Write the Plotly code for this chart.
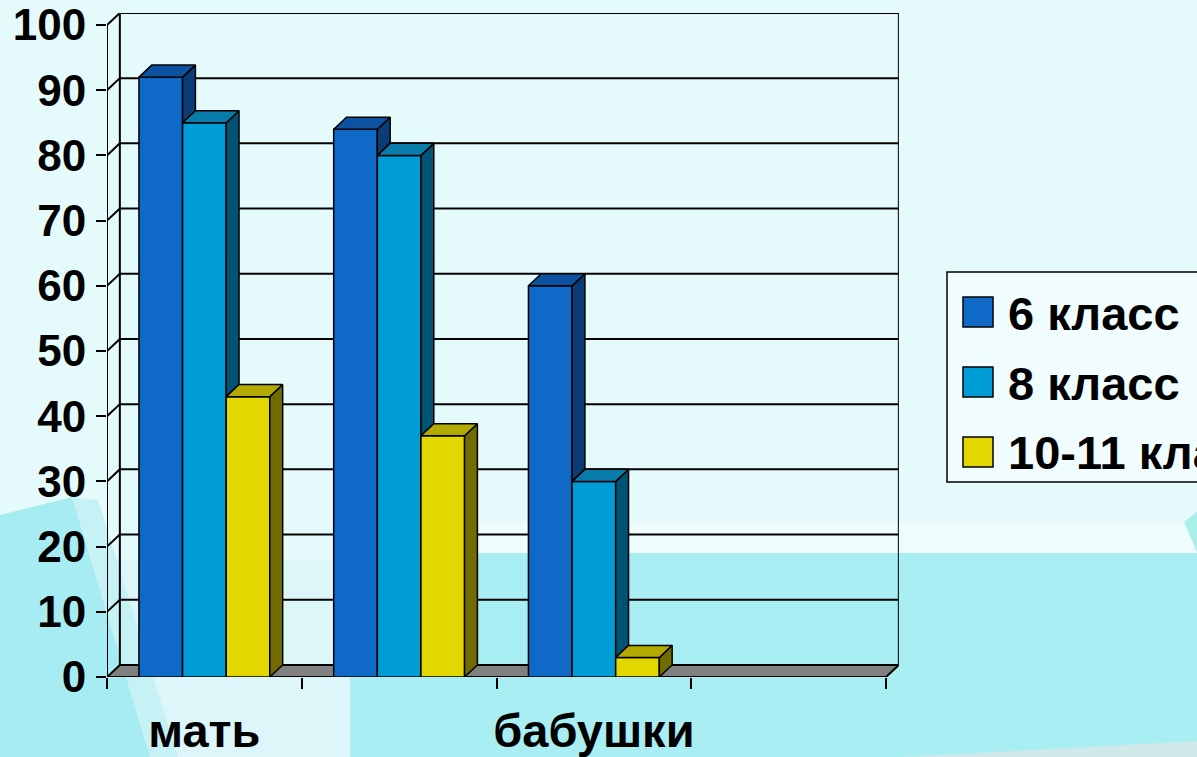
import plotly.graph_objects as go

# ---------------- data ----------------
categories = ["мать", "", "бабушки", ""]
series_names = ["6 класс", "8 класс", "10-11 класс"]
class_6 = [92, 84, 60, 0]
class_8 = [85, 80, 30, 0]
class_10_11 = [43, 37, 3, 0]
y_tick_values = [0, 10, 20, 30, 40, 50, 60, 70, 80, 90, 100]

# ---------------- style ----------------
W, H = 1197, 757
front_colors = ["#0f69c6", "#009cd6", "#e2d800"]
top_colors = ["#0d52a0", "#0a7cac", "#b2aa00"]
side_colors = ["#0b3c76", "#005374", "#726c00"]
FONT = "Liberation Sans, Arial, sans-serif"
BW = 0.224          # bar width (category units)
DX = 0.066          # 3D depth, x (category units)
DY = 1.85           # 3D depth, y (value units)
CAT_PX = 194.75     # pixels per category
X_LEFT_PX, Y_BOTTOM_PX = 107, 677
PX_PER_UNIT = 6.52

series_values = [class_6, class_8, class_10_11]
n_cat = len(categories)
x_range = [-0.5, n_cat - 0.5 + DX]
y_range = [0, 100 + DY]
x_dom = [X_LEFT_PX / W, (X_LEFT_PX + (n_cat + DX) * CAT_PX) / W]
y_dom = [1 - Y_BOTTOM_PX / H, 1 - (Y_BOTTOM_PX - (100 + DY) * PX_PER_UNIT) / H]


def px(x):
    return x / W


def py(y):
    return 1 - y / H


fig = go.Figure()

# front faces of bars
for i, (name, vals) in enumerate(zip(series_names, series_values)):
    xs = [c + (i - 1) * BW for c in range(n_cat)]
    fig.add_trace(go.Bar(
        x=xs, y=vals, width=BW, name=name,
        marker=dict(color=front_colors[i], line=dict(color="#000000", width=1.5)),
        showlegend=False, hoverinfo="skip"))

# side and top faces (pseudo-3D), computed from data
for i, vals in enumerate(series_values):
    tx, ty, sx, sy = [], [], [], []
    for c in range(n_cat):
        h = vals[c]
        if h <= 0:
            continue
        xl = c + (i - 1) * BW - BW / 2
        xr = xl + BW
        tx += [xl, xr, xr + DX, xl + DX, xl, None]
        ty += [h, h, h + DY, h + DY, h, None]
        base = series_values[i + 1][c] if i + 1 < len(series_values) else 0
        if h > base:
            sx += [xr, xr, xr + DX, xr + DX, xr, None]
            sy += [base, h, h + DY, base + DY, base, None]
    fig.add_trace(go.Scatter(x=sx, y=sy, mode="lines", fill="toself",
                             fillcolor=side_colors[i], line=dict(color="#000000", width=1.5),
                             showlegend=False, hoverinfo="skip"))
    fig.add_trace(go.Scatter(x=tx, y=ty, mode="lines", fill="toself",
                             fillcolor=top_colors[i], line=dict(color="#000000", width=1.5),
                             showlegend=False, hoverinfo="skip"))

shapes = []
# ---- background decorations (paper coords, full figure) ----
def poly(points, color):
    path = "M " + " L ".join(f"{px(x):.5f},{py(y):.5f}" for x, y in points) + " Z"
    return dict(type="path", xref="paper", yref="paper", path=path,
                fillcolor=color, line=dict(width=0), layer="below")

shapes.append(poly([(0, 560), (350, 560), (350, 757), (0, 757)], "#dcf6f9"))
shapes.append(poly([(350, 522), (1197, 522), (1197, 553), (350, 553)], "#eefcfd"))
shapes.append(poly([(350, 553), (1197, 553), (1197, 757), (350, 757)], "#a8eef3"))
shapes.append(poly([(72, 497), (98, 500), (178, 757), (150, 757)], "#c6f1f5"))
shapes.append(poly([(0, 515), (72, 497), (150, 757), (0, 757)], "#a6ecf2"))
shapes.append(poly([(900, 757), (1197, 741), (1197, 757)], "#cfe8ea"))
shapes.append(poly([(1184, 522), (1197, 512), (1197, 552)], "#a9eee9"))

# ---- 3D walls and floor (data coords) ----
LINE = dict(color="#000000", width=2)
x_front_l, x_front_r = -0.5, n_cat - 0.5
# floor
shapes.append(dict(type="path", xref="x", yref="y", layer="below",
                   path=f"M {x_front_l},0 L {x_front_r},0 L {x_front_r + DX},{DY} L {x_front_l + DX},{DY} Z",
                   fillcolor="#808080", line=LINE))
# back-wall gridlines and left-wall connectors
for v in y_tick_values[1:]:
    shapes.append(dict(type="line", xref="x", yref="y", layer="below",
                       x0=x_front_l + DX, x1=x_front_r + DX, y0=v + DY, y1=v + DY, line=LINE))
    shapes.append(dict(type="line", xref="x", yref="y", layer="below",
                       x0=x_front_l, x1=x_front_l + DX, y0=v, y1=v + DY, line=LINE))
# wall verticals
for xv in (x_front_l + DX, x_front_r + DX):
    shapes.append(dict(type="line", xref="x", yref="y", layer="below",
                       x0=xv, x1=xv, y0=DY, y1=100 + DY, line=LINE))
# front value axis line
shapes.append(dict(type="line", xref="x", yref="y", layer="below",
                   x0=x_front_l, x1=x_front_l, y0=0, y1=100, line=LINE))

# ---- legend (drawn manually to match large swatches) ----
shapes.append(dict(type="rect", xref="paper", yref="paper",
                   x0=px(947), x1=px(1260), y0=py(482), y1=py(272),
                   fillcolor="#f0fcfd", line=dict(color="#000000", width=1.5), layer="below"))
annotations = []
row_centers = [312, 382, 452]
for i, name in enumerate(series_names):
    yc = row_centers[i]
    shapes.append(dict(type="rect", xref="paper", yref="paper",
                       x0=px(963), x1=px(993), y0=py(yc + 15), y1=py(yc - 15),
                       fillcolor=front_colors[i], line=dict(color="#000000", width=1.5), layer="above"))
    annotations.append(dict(xref="paper", yref="paper", x=px(1006), y=py(yc + 1),
                            xanchor="left", yanchor="middle", text=name, showarrow=False,
                            font=dict(family=FONT, size=47, color="#000000", weight="bold")))

fig.update_layout(
    width=W, height=H,
    margin=dict(l=0, r=0, t=0, b=0, autoexpand=False),
    paper_bgcolor="#e5fafb",
    plot_bgcolor="rgba(0,0,0,0)",
    barmode="overlay",
    showlegend=False,
    shapes=shapes,
    annotations=annotations,
    xaxis=dict(domain=x_dom, range=x_range, showgrid=False, zeroline=False, showline=False,
               tickmode="array", tickvals=list(range(n_cat)), ticktext=categories,
               ticks="", ticklabelstandoff=22,
               tickfont=dict(family=FONT, size=47, color="#000000", weight="bold"),
               minor=dict(tickmode="array", tickvals=[c - 0.5 for c in range(n_cat + 1)],
                          ticks="outside", ticklen=11, tickwidth=2, tickcolor="#000000",
                          showgrid=False),
               fixedrange=True),
    yaxis=dict(domain=y_dom, range=y_range, showgrid=False, zeroline=False, showline=False,
               tickmode="array", tickvals=y_tick_values,
               ticktext=[str(v) for v in y_tick_values],
               ticks="outside", ticklen=10, tickwidth=2, tickcolor="#000000",
               ticklabelstandoff=1,
               tickfont=dict(family=FONT, size=44, color="#000000", weight="bold"),
               fixedrange=True),
)

fig.write_html("out.html", config={"displayModeBar": False},
               post_script="document.body.style.margin='0px';document.body.style.overflow='hidden';")
